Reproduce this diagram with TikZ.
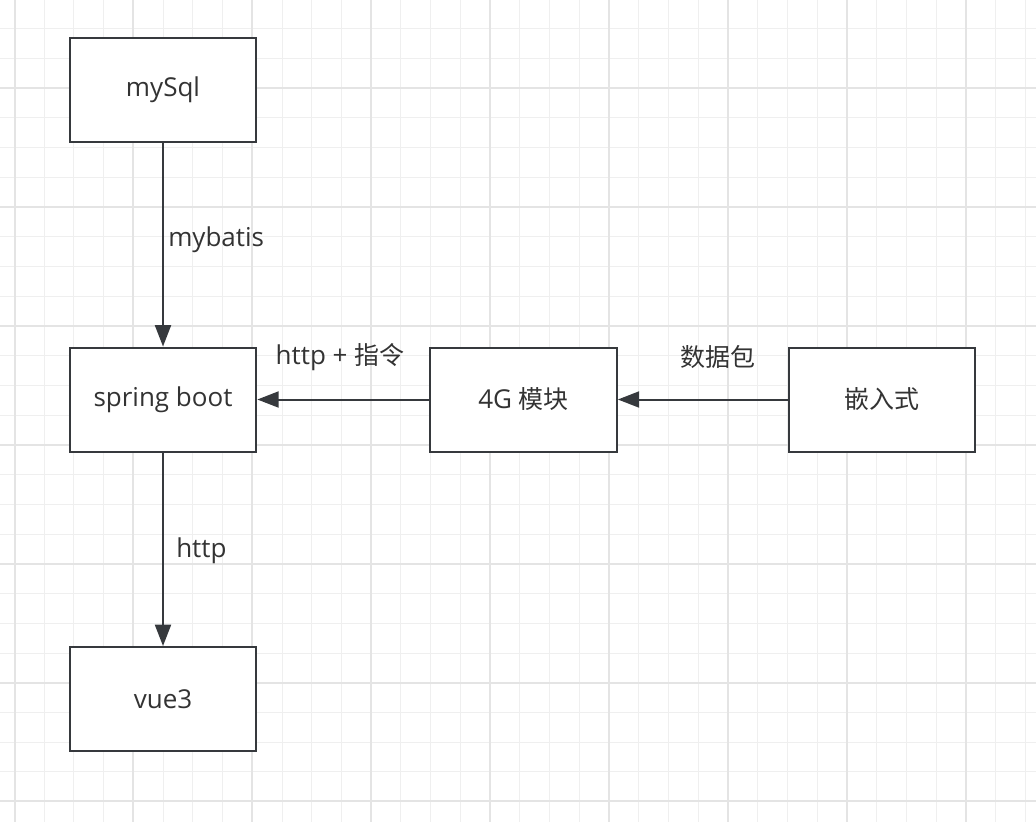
\documentclass[tikz,border=0pt]{standalone}
\usepackage{fontspec}
\setmainfont{Open Sans}
\newfontfamily\cjk[Scale=0.96]{Noto Sans CJK SC}
\usetikzlibrary{arrows.meta}
\definecolor{ink}{HTML}{333333}
\definecolor{edge}{HTML}{36393D}
\definecolor{gridminor}{HTML}{EFEFEF}
\definecolor{gridmajor}{HTML}{E4E4E4}
\begin{document}
\begin{tikzpicture}[x=0.75pt, y=-0.75pt,
    every node/.style={text=ink, font=\fontsize{19.5}{23}\selectfont},
    box/.style={draw=edge, line width=1.5pt, fill=white, minimum width=140pt, minimum height=78pt},
    lbl/.style={inner sep=0pt},
    flow/.style={draw=edge, line width=1.5pt, -{Triangle[length=16pt, width=12pt]}}]
    \useasboundingbox (0,0) rectangle (1036,822);
    % background grid
    \foreach \i in {0,...,35} {
        \draw[gridminor, line width=0.75pt] ({14.5+29.73*(\i-1)},0) -- ++(0,822);
    }
    \foreach \i in {0,...,28} {
        \draw[gridminor, line width=0.75pt] (0,{-1+29.73*\i}) -- ++(1036,0);
    }
    \foreach \i in {0,...,8} {
        \draw[gridmajor, line width=1.5pt] ({14.5+118.9*\i},0) -- ++(0,822);
    }
    \foreach \i in {0,...,6} {
        \draw[gridmajor, line width=1.5pt] (0,{88+118.9*\i}) -- ++(1036,0);
    }

    \node[box] (mysql) at (163, 89.5) {mySql};
    \node[box] (spring) at (163, 399.5) {spring boot};
    \node[box] (modem) at (523.5, 399.5) {4G {\cjk 模块}};
    \node[box] (embedded) at (882, 399.5) {{\cjk 嵌入式}};
    \node[box] (vue) at (163, 699) {vue3};

    \draw[flow] (mysql) -- (spring);
    \draw[flow] (spring) -- (vue);
    \draw[flow] (modem) -- (spring);
    \draw[flow] (embedded) -- (modem);

    \node[lbl, anchor=west] (mybatis) at (168, 240) {mybatis};
    \node[lbl, anchor=west] (httpdown) at (176, 551) {http};
    \node[lbl] (httpcmd) at (340, 357) {http + {\cjk 指令}};
    \node[lbl] (packet) at (718, 357) {{\cjk 数据包}};
\end{tikzpicture}
\end{document}
